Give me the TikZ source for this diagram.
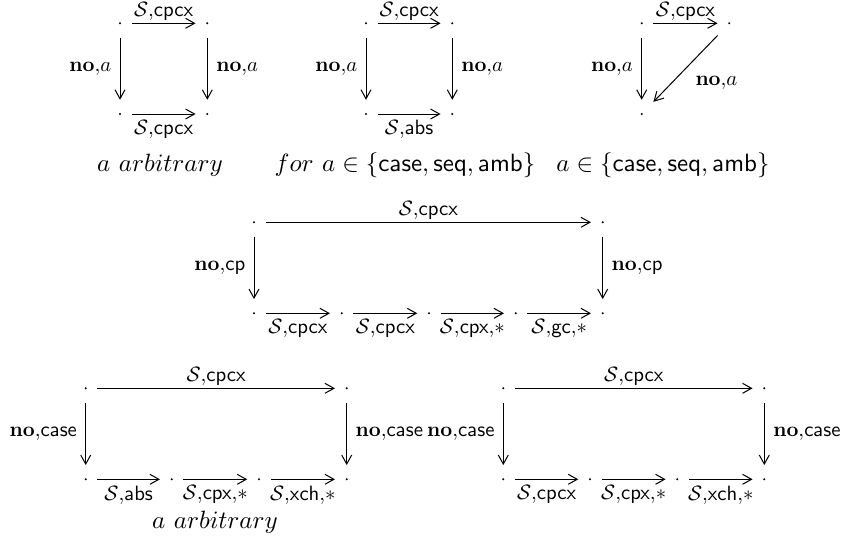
\documentclass[tikz,border=0pt]{standalone}
\usepackage{graphicx}
\usetikzlibrary{arrows.meta}
\newcommand{\SLab}[1]{\scalebox{0.83}{$\mathcal{S}{,}#1$}}
\newcommand{\NoLab}[1]{\scalebox{0.83}{$\mathbf{no}{,}#1$}}
\begin{document}
\begin{tikzpicture}[x=0.4pt,y=-0.4pt,
  dotn/.style={rectangle,minimum width=9pt,minimum height=11pt,inner sep=0pt,
    path picture={\fill (path picture bounding box.center) circle (0.45pt);}},
  ar/.style={-{Straight Barb[length=3.6pt,width=4pt]},line width=0.4pt},
  lab/.style={font=\fontsize{10}{12}\selectfont,inner sep=0pt},
  la/.style={lab,above=1pt},
  lb/.style={lab,below=2.4pt},
  ll/.style={lab,left=3.3pt},
  lr/.style={lab,right=3.4pt},
  txt/.style={font=\fontsize{10.2}{12}\selectfont,inner sep=0pt,anchor=base}]
\useasboundingbox (0,0) rectangle (842,548);

% diagram 1
\node[dotn] (a1) at (120,23.3) {};
\node[dotn] (a2) at (207.3,23.3) {};
\node[dotn] (a3) at (120,114) {};
\node[dotn] (a4) at (207.3,114) {};
\draw[ar] (a1) -- node[la]{\SLab{\mathsf{cpcx}}} (a2);
\draw[ar] (a3) -- node[lb]{\SLab{\mathsf{cpcx}}} (a4);
\draw[ar] (a1) -- node[ll]{\NoLab{a}} (a3);
\draw[ar] (a2) -- node[lr]{\NoLab{a}} (a4);

% diagram 2
\node[dotn] (b1) at (366,23.3) {};
\node[dotn] (b2) at (452.3,23.3) {};
\node[dotn] (b3) at (366,114) {};
\node[dotn] (b4) at (452.3,114) {};
\draw[ar] (b1) -- node[la]{\SLab{\mathsf{cpcx}}} (b2);
\draw[ar] (b3) -- node[lb]{\SLab{\mathsf{abs}}} (b4);
\draw[ar] (b1) -- node[ll]{\NoLab{a}} (b3);
\draw[ar] (b2) -- node[lr]{\NoLab{a}} (b4);

% diagram 3
\node[dotn] (c1) at (641.7,23.3) {};
\node[dotn] (c2) at (729.3,23.3) {};
\node[dotn] (c3) at (641.7,114) {};
\draw[ar] (c1) -- node[la]{\SLab{\mathsf{cpcx}}} (c2);
\draw[ar] (c1) -- node[ll]{\NoLab{a}} (c3);
\draw[ar] (c2) -- node[lab,anchor=north west,xshift=3.8pt,yshift=-3pt]{\NoLab{a}} (c3);

% captions row 1
\node[txt] (t1) at (160,171) {$a\ arbitrary$};
\node[txt] (t2) at (405,171) {$for\ a\in\{\mathsf{case},\mathsf{seq},\mathsf{amb}\}$};
\node[txt] (t3) at (663,171) {$a\in\{\mathsf{case},\mathsf{seq},\mathsf{amb}\}$};

% diagram 4
\node[dotn] (d1) at (254,222.3) {};
\node[dotn] (d2) at (602.7,222.3) {};
\node[dotn] (d3) at (254,313.3) {};
\node[dotn] (d4) at (341.7,313.3) {};
\node[dotn] (d5) at (429,313.3) {};
\node[dotn] (d6) at (515.7,313.3) {};
\node[dotn] (d7) at (602.7,313.3) {};
\draw[ar] (d1) -- node[la]{\SLab{\mathsf{cpcx}}} (d2);
\draw[ar] (d1) -- node[ll]{\NoLab{\mathsf{cp}}} (d3);
\draw[ar] (d2) -- node[lr]{\NoLab{\mathsf{cp}}} (d7);
\draw[ar] (d3) -- node[lb]{\SLab{\mathsf{cpcx}}} (d4);
\draw[ar] (d4) -- node[lb]{\SLab{\mathsf{cpcx}}} (d5);
\draw[ar] (d5) -- node[lb]{\SLab{\mathsf{cpx}{,}\ast}} (d6);
\draw[ar] (d6) -- node[lb]{\SLab{\mathsf{gc}{,}\ast}} (d7);

% diagram 5
\node[dotn] (e1) at (85.7,388.3) {};
\node[dotn] (e2) at (346.7,388.3) {};
\node[dotn] (e3) at (85.7,479.3) {};
\node[dotn] (e4) at (171.7,479.3) {};
\node[dotn] (e5) at (259,479.3) {};
\node[dotn] (e6) at (346.7,479.3) {};
\draw[ar] (e1) -- node[la]{\SLab{\mathsf{cpcx}}} (e2);
\draw[ar] (e1) -- node[ll]{\NoLab{\mathsf{case}}} (e3);
\draw[ar] (e2) -- node[lr]{\NoLab{\mathsf{case}}} (e6);
\draw[ar] (e3) -- node[lb]{\SLab{\mathsf{abs}}} (e4);
\draw[ar] (e4) -- node[lb]{\SLab{\mathsf{cpx}{,}\ast}} (e5);
\draw[ar] (e5) -- node[lb]{\SLab{\mathsf{xch}{,}\ast}} (e6);
\node[txt] (t4) at (215,528) {$a\ arbitrary$};

% diagram 6
\node[dotn] (f1) at (503.3,388.3) {};
\node[dotn] (f2) at (764.3,388.3) {};
\node[dotn] (f3) at (503.3,479.3) {};
\node[dotn] (f4) at (590,479.3) {};
\node[dotn] (f5) at (677.3,479.3) {};
\node[dotn] (f6) at (764.3,479.3) {};
\draw[ar] (f1) -- node[la]{\SLab{\mathsf{cpcx}}} (f2);
\draw[ar] (f1) -- node[ll]{\NoLab{\mathsf{case}}} (f3);
\draw[ar] (f2) -- node[lr]{\NoLab{\mathsf{case}}} (f6);
\draw[ar] (f3) -- node[lb]{\SLab{\mathsf{cpcx}}} (f4);
\draw[ar] (f4) -- node[lb]{\SLab{\mathsf{cpx}{,}\ast}} (f5);
\draw[ar] (f5) -- node[lb]{\SLab{\mathsf{xch}{,}\ast}} (f6);
\end{tikzpicture}
\end{document}
